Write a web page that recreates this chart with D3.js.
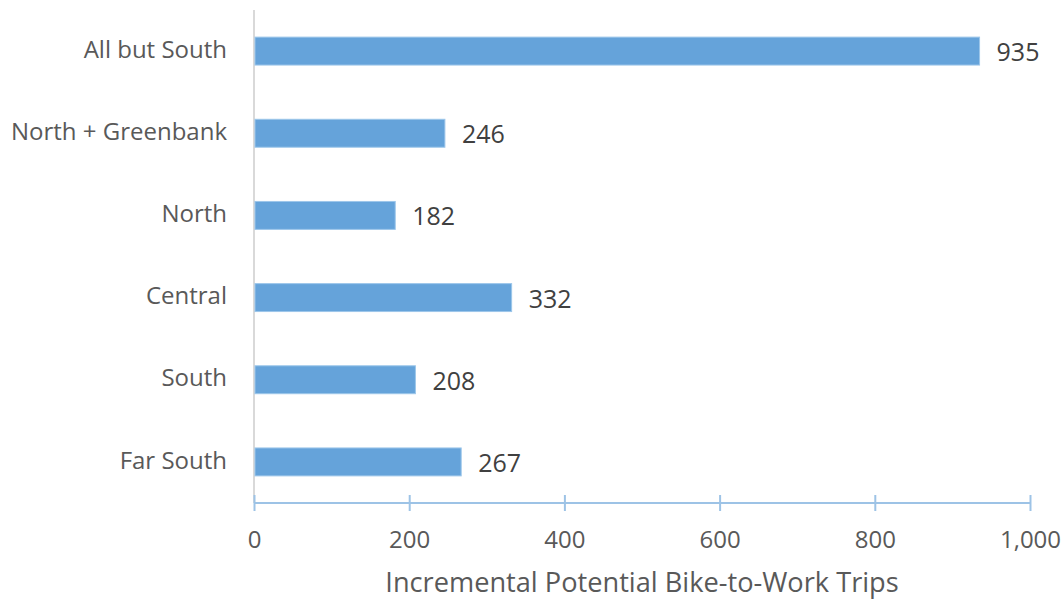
<!DOCTYPE html>
<html><head><meta charset="utf-8">
<script src="https://cdn.jsdelivr.net/npm/d3@7"></script>
<style>body{margin:0;background:#fff}</style>
</head><body><svg id="c" width="1064" height="601"></svg>
<script>
const categories = ["All but South","North + Greenbank","North","Central","South","Far South"];
const values = [935,246,182,332,208,267];
const xTicks = [0,200,400,600,800,1000];
const xTitle = "Incremental Potential Bike-to-Work Trips";

const svg = d3.select("#c");
const F = "'Open Sans', sans-serif";
const x = d3.scaleLinear().domain([0,1000]).range([254,1030]);
const y = d3.scaleBand().domain(categories).range([10,503]).paddingInner(0.66).paddingOuter(0.33);

svg.append("line").attr("x1",254).attr("x2",254).attr("y1",10).attr("y2",503)
  .attr("stroke","#d9d9d9").attr("stroke-width",2);

svg.selectAll("rect.bar").data(values).join("rect").attr("class","bar")
  .attr("x",x(0)+1).attr("y",(d,i)=>y(categories[i]))
  .attr("width",d=>x(d)-x(0)-1).attr("height",y.bandwidth())
  .attr("fill","#65a3da").attr("stroke","#9cc6ea").attr("stroke-width",1);

svg.selectAll("text.val").data(values).join("text").attr("class","val")
  .attr("x",d=>x(d)+17).attr("y",(d,i)=>y(categories[i])+y.bandwidth()/2)
  .attr("dy","0.4em").attr("font-family",F).attr("font-size",25).attr("fill","#404040")
  .text(d=>d);

svg.selectAll("text.cat").data(categories).join("text").attr("class","cat")
  .attr("x",227).attr("y",d=>y(d)+y.bandwidth()/2-2).attr("dy","0.36em")
  .attr("text-anchor","end").attr("font-family",F).attr("font-size",24).attr("fill","#595959")
  .text(d=>d);

const ax = svg.append("g").attr("transform","translate(0,503)")
  .call(d3.axisBottom(x).tickValues(xTicks).tickSize(8).tickPadding(20).tickFormat(d3.format(",")));
ax.select(".domain").remove();
ax.append("line").attr("x1",254).attr("x2",1030).attr("stroke","#9dc3e6").attr("stroke-width",2);
ax.selectAll(".tick line").attr("y1",-8).attr("y2",8).attr("stroke","#9dc3e6").attr("stroke-width",2);
ax.selectAll(".tick text").attr("font-family",F).attr("font-size",24).attr("fill","#595959");

svg.append("text").attr("x",642).attr("y",592).attr("text-anchor","middle")
  .attr("font-family",F).attr("font-size",27.2).attr("fill","#595959").text(xTitle);
</script></body></html>
